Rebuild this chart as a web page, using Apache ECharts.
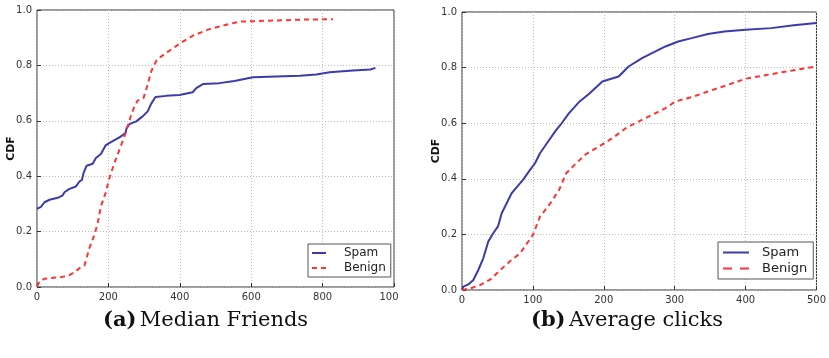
<!DOCTYPE html>
<html><head><meta charset="utf-8">
<script src="https://cdn.jsdelivr.net/npm/echarts@6/dist/echarts.min.js"></script>
<style>html,body{margin:0;padding:0;background:#fff}#c{width:829px;height:358px}</style>
</head><body><div id="c"></div>
<script>
// (a) Median Friends
const friendsSpam = [[0,0.282],[11,0.289],[21,0.306],[35,0.315],[58,0.322],[72,0.331],[77,0.342],[91,0.354],[109,0.363],[119,0.381],[126,0.387],[130,0.41],[139,0.438],[156,0.445],[165,0.466],[179,0.48],[192,0.511],[207,0.523],[231,0.54],[248,0.556],[251,0.574],[259,0.588],[278,0.598],[296,0.616],[310,0.634],[320,0.662],[332,0.686],[362,0.69],[399,0.693],[436,0.703],[446,0.718],[466,0.733],[511,0.736],[553,0.744],[558,0.751],[605,0.757],[736,0.763],[782,0.767],[820,0.775],[885,0.782],[934,0.785],[948,0.791]];
const friendsBenign = [[0,0.002],[7,0.02],[21,0.03],[63,0.035],[86,0.04],[105,0.053],[123,0.072],[133,0.078],[139,0.105],[147,0.141],[161,0.189],[170,0.231],[179,0.291],[192,0.339],[203,0.394],[217,0.448],[231,0.496],[245,0.544],[254,0.58],[264,0.622],[273,0.652],[282,0.673],[298,0.681],[310,0.73],[320,0.779],[336,0.821],[362,0.845],[399,0.878],[436,0.907],[483,0.931],[530,0.947],[567,0.958],[642,0.961],[736,0.965],[829,0.967]];
// (b) Average clicks
const clicksSpam = [[0,0],[2,0.012],[9,0.02],[16,0.036],[23,0.072],[30,0.114],[37,0.174],[44,0.204],[51,0.23],[56,0.276],[63,0.312],[70,0.348],[77,0.369],[86,0.396],[96,0.432],[103,0.456],[110,0.492],[119,0.525],[133,0.576],[140,0.598],[151,0.636],[165,0.676],[179,0.705],[198,0.75],[221,0.768],[235,0.804],[254,0.834],[268,0.852],[287,0.876],[305,0.894],[324,0.906],[347,0.921],[370,0.93],[400,0.936],[436,0.942],[468,0.952],[500,0.96]];
const clicksBenign = [[0,0],[12,0.006],[26,0.018],[40,0.038],[54,0.072],[68,0.104],[82,0.132],[100,0.198],[110,0.264],[123,0.306],[137,0.36],[147,0.42],[161,0.456],[175,0.489],[193,0.516],[212,0.546],[231,0.582],[249,0.606],[268,0.63],[287,0.654],[301,0.678],[324,0.694],[347,0.714],[375,0.738],[400,0.76],[431,0.774],[464,0.789],[500,0.804]];
const seriesNames = ['Spam','Benign'];
const captions = ['Median Friends','Average clicks'];
const captionTags = ['(a)','(b)'];
const yTicks = {min:0,max:1,interval:0.2};

const blue = '#3b3bab', red = '#ff3333';
const chart = echarts.init(document.getElementById('c'));
const axisLabel = {color:'#333', fontSize:10, fontFamily:'DejaVu Sans'};
const split = {show:true, lineStyle:{color:'#bbb', type:[1,2], width:1}};
function xAx(i,max,fmt){return {type:'value',gridIndex:i,min:0,max:max,interval:max/5,
  axisLine:{show:false},axisTick:{show:true,inside:true,length:4,lineStyle:{color:'#333'}},
  axisLabel:Object.assign({margin:5,formatter:fmt,rich:{e:{fontSize:10,color:'#333',fontFamily:'DejaVu Sans',padding:[0,10,0,0]}}},axisLabel),splitLine:split};}
function yAx(i){return {type:'value',gridIndex:i,min:yTicks.min,max:yTicks.max,interval:yTicks.interval,
  name:'CDF',nameLocation:'middle',nameGap:20,nameRotate:90,nameMoveOverlap:false,
  nameTextStyle:{fontWeight:'bold',fontSize:11,color:'#111',fontFamily:'DejaVu Sans'},
  axisLine:{show:false},axisTick:{show:true,inside:true,length:4,lineStyle:{color:'#333'}},
  axisLabel:Object.assign({margin:5,formatter:v=>v.toFixed(1)},axisLabel),splitLine:split};}
function ser(name,data,i,color,dashed){return {name:name,type:'line',xAxisIndex:i,yAxisIndex:i,data:data,
  showSymbol:false,symbol:'none',lineStyle:{color:color,width:2,type:dashed?[5,4]:'solid'},itemStyle:{color:color},z:3};}
function leg(left,top,fs,iw,gap,tp,pad,dash){return {
  data:[{name:seriesNames[0],icon:'rect'},{name:seriesNames[1],icon:dash}],
  orient:'vertical',left:left,top:top,
  itemWidth:iw,itemHeight:2,itemGap:gap,padding:pad,borderColor:'#555',borderWidth:1,backgroundColor:'#fff',
  textStyle:{fontSize:fs,color:'#222',fontFamily:'DejaVu Sans',padding:[0,0,0,tp]},selectedMode:false};}
chart.setOption({
  animation:false,
  grid:[{left:37,top:10,width:357,height:277,show:true,borderColor:'#333',borderWidth:1,backgroundColor:'transparent'},
        {left:462,top:12,width:357,height:278,show:true,borderColor:'#333',borderWidth:1,backgroundColor:'transparent'}],
  xAxis:[xAx(0,1000,v=>v===1000?'{e|100}':String(v)),xAx(1,500,v=>String(v))],
  yAxis:[yAx(0),yAx(1)],
  legend:[leg(308,244,12,14,3,13,[3,5,3,4],'path://M0,0h5v2h-5zM9,0h5v2h-5z'),
          leg(718,242,13,26,3,8,[4,6,4,5],'path://M0,0h9v2h-9zM17,0h9v2h-9z')],
  series:[ser(seriesNames[0],friendsSpam,0,blue,false),ser(seriesNames[1],friendsBenign,0,red,true),
          ser(seriesNames[0],clicksSpam,1,blue,false),ser(seriesNames[1],clicksBenign,1,red,true)],
  graphic:[0,1].map(i=>({type:'text',left:i===0?103:531,top:310,
    style:{rich:{b:{fontWeight:'bold',fontSize:21,fontFamily:'DejaVu Serif',fill:'#111'},n:{fontSize:21,fontFamily:'DejaVu Serif',fill:'#111'}},
      text:'{b|'+captionTags[i]+'} {n|'+captions[i]+'}'}}))
});
</script></body></html>
